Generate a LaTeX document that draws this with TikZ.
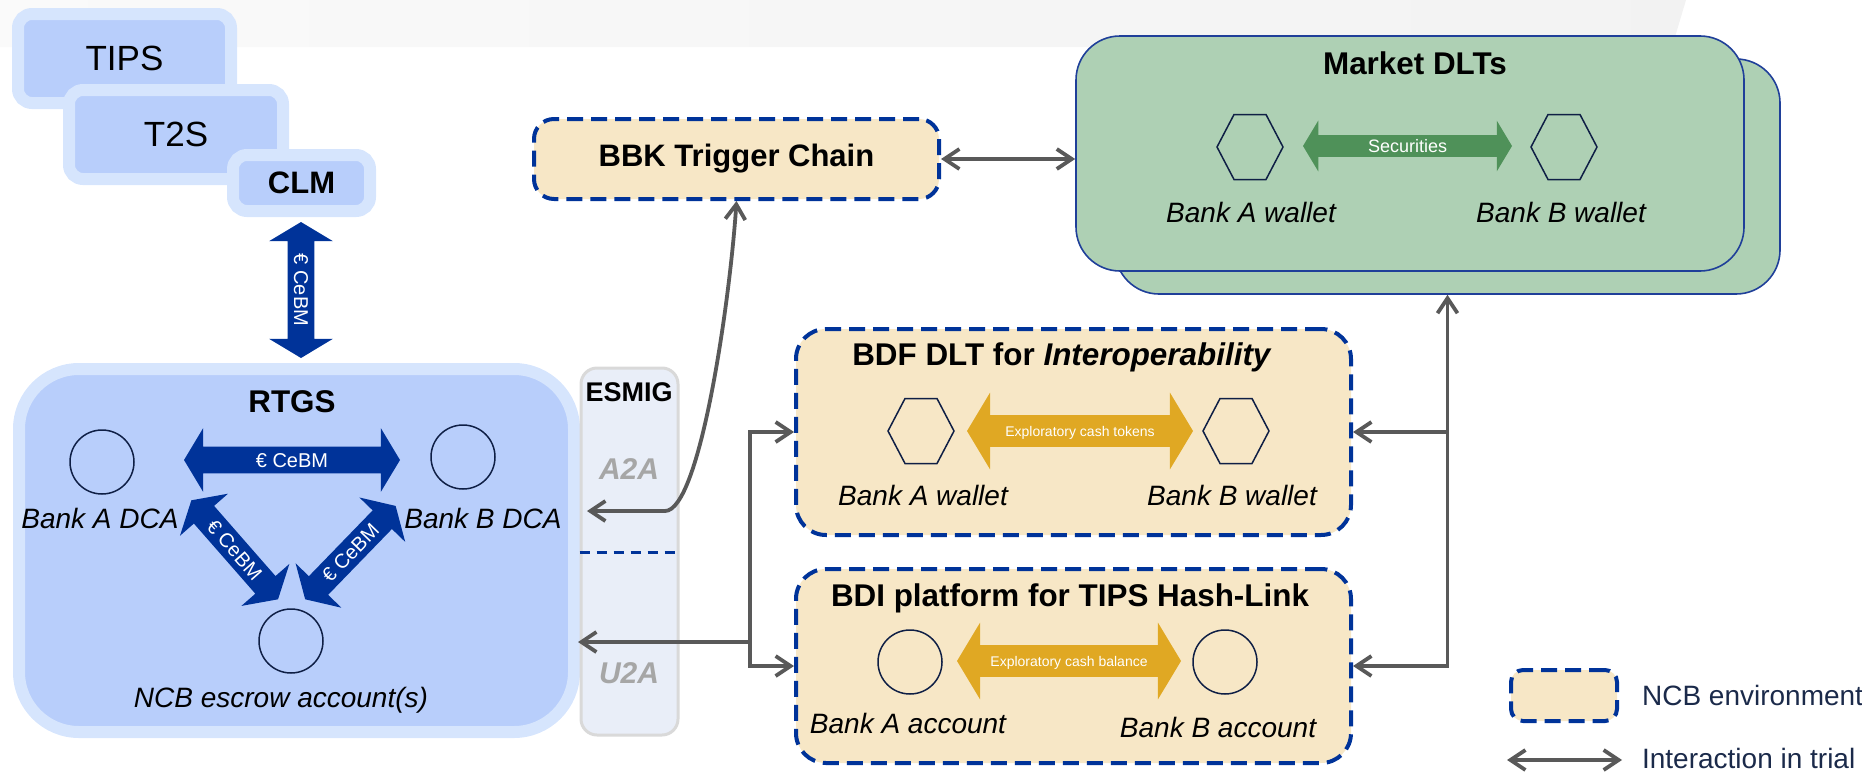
\documentclass[tikz,border=0pt]{standalone}
\usepackage{fontspec}
\setmainfont{Liberation Sans}
\usetikzlibrary{shapes.arrows,arrows.meta,positioning}

\definecolor{tgtborder}{HTML}{D6E5FD}
\definecolor{tgtfill}{HTML}{B8CEFB}
\definecolor{cebmblue}{HTML}{003399}
\definecolor{ncbfill}{HTML}{F7E7C6}
\definecolor{ncbline}{HTML}{003399}
\definecolor{dltfill}{HTML}{AED0B4}
\definecolor{dltline}{HTML}{1F3F99}
\definecolor{secgreen}{HTML}{4F9159}
\definecolor{cashgold}{HTML}{E0A823}
\definecolor{linkgray}{HTML}{595959}
\definecolor{esmigfill}{HTML}{E9EEF8}
\definecolor{esmigline}{HTML}{D9D9D9}
\definecolor{modegray}{HTML}{A6A6A6}
\definecolor{acctline}{HTML}{0F1F45}
\definecolor{legendtext}{HTML}{1B2A4A}

\tikzset{
  tgtbox/.style={draw=tgtborder, fill=tgtfill, line width=6pt, rounded corners=7pt, inner sep=0pt},
  ncbbox/.style={draw=ncbline, fill=ncbfill, line width=2pt, dash pattern=on 8pt off 4pt, rounded corners=15pt, inner sep=0pt},
  dltbox/.style={draw=dltline, fill=dltfill, line width=0.8pt, rounded corners=22pt, inner sep=0pt},
  esmigbox/.style={draw=esmigline, fill=esmigfill, line width=1.5pt, rounded corners=8pt, inner sep=0pt},
  acct/.style={circle, draw=acctline, line width=0.75pt, minimum size=32pt, inner sep=0pt},
  hexline/.style={draw=acctline, line width=0.75pt},
  lbl/.style={font=\fontsize{14}{16}\selectfont\itshape},
  ttl/.style={font=\fontsize{15.7}{18}\selectfont\bfseries},
  mode/.style={font=\fontsize{15}{18}\selectfont\bfseries\itshape, text=modegray},
  legend/.style={anchor=west, text=legendtext, font=\fontsize{14}{16}\selectfont},
  fat/.style={double arrow, double arrow tip angle=118, inner xsep=2pt, text=white, text depth=0pt},
  cebm/.style={fat, fill=cebmblue, font=\fontsize{10}{11}\selectfont, text height=7pt, inner ysep=3pt, double arrow head extend=9.25pt},
  secarrow/.style={fat, fill=secgreen, font=\fontsize{9}{10}\selectfont, text height=6.5pt, inner ysep=2pt, double arrow head extend=7.25pt},
  cash/.style={fat, fill=cashgold, font=\fontsize{7}{8}\selectfont, text height=5pt, inner ysep=5.25pt, double arrow head extend=11.25pt},
  link/.style={draw=linkgray, line width=1.9pt, >={Straight Barb[length=7.5pt,width=10pt]}}
}

\newcommand{\wallet}[2]{\coordinate (#1) at (#2);
  \draw[hexline] (#1) ++(-33,0) -- ++(17,-32.5) -- ++(32,0) -- ++(17,32.5) -- ++(-17,32.5) -- ++(-32,0) -- cycle;}

\begin{document}
\begin{tikzpicture}[x=0.5pt,y=-0.5pt]
    \useasboundingbox (0,0) rectangle (1862,771);
    \shade[left color=gray!4,right color=gray!10] (0,0) -- (1686,0) -- (1672,47) -- (0,47) -- cycle;

    % target services
    \node[tgtbox, minimum width=106.5pt, minimum height=44.5pt, font=\fontsize{17.5}{20}\selectfont] (tips) at (124.5,58.5) {TIPS};
    \node[tgtbox, minimum width=107pt, minimum height=44.5pt, font=\fontsize{17.5}{20}\selectfont] (t2s) at (176,134.5) {T2S};
    \node[tgtbox, minimum width=68.5pt, minimum height=28pt, font=\fontsize{15.5}{18}\selectfont\bfseries] (clm) at (301.5,183) {CLM};
    \node[cebm, rotate=-90, minimum height=68pt] (clmrtgs) at (301,290) {€ CeBM};

    % RTGS
    \node[tgtbox, minimum width=277.5pt, minimum height=181.5pt, rounded corners=30pt] (rtgs) at (296.5,550.5) {};
    \node[ttl] (rtgsttl) at (292,402) {RTGS};
    \node[acct] (dcaA) at (102,462) {};
    \node[acct] (dcaB) at (463,457) {};
    \node[acct] (escrow) at (291,641) {};
    \node[lbl] (dcaAlbl) at (100,518) {Bank A DCA};
    \node[lbl] (dcaBlbl) at (483,518) {Bank B DCA};
    \node[lbl] (escrowlbl) at (281,700) {NCB escrow account(s)};
    \node[cebm, minimum height=108pt] (dcaAB) at (292,460) {€ CeBM};
    \node[cebm, rotate=-48.8, minimum height=65.8pt] (dcaAesc) at (234.7,549.8) {€ CeBM};
    \node[cebm, rotate=45.9, minimum height=65pt] (dcaBesc) at (350.4,552.6) {€ CeBM};

    % ESMIG
    \node[esmigbox, minimum width=48.5pt, minimum height=183.5pt] (esmig) at (629.5,551.5) {};
    \node[font=\fontsize{13.5}{16}\selectfont\bfseries] (esmigttl) at (629,392) {ESMIG};
    \draw[ncbline, line width=1.5pt, dash pattern=on 5pt off 3.5pt] (esmig.west |- 0,552) -- (esmig.east |- 0,552);
    \node[mode] (a2atxt) at (629,469) {A2A};
    \node[mode] (u2atxt) at (629,673) {U2A};

    % BBK
    \node[ncbbox, rounded corners=10pt, minimum width=202.5pt, minimum height=40pt, font=\fontsize{15.5}{18}\selectfont\bfseries] (bbk) at (736.5,159) {BBK Trigger Chain};

    % market DLTs
    \node[dltbox, minimum width=332.5pt, minimum height=117.5pt] (mktback) at (1447.5,176.5) {};
    \node[dltbox, minimum width=334pt, minimum height=117.5pt] (mkt) at (1410,153.5) {};
    \node[ttl] (mktttl) at (1415,63) {Market DLTs};
    \wallet{mwA}{1250,147}
    \wallet{mwB}{1564,147}
    \node[lbl] (mwAlbl) at (1251,212) {Bank A wallet};
    \node[lbl] (mwBlbl) at (1561,212) {Bank B wallet};
    \node[secarrow, minimum height=104.5pt] (sec) at (1407.5,146) {Securities};

    % BDF
    \node[ncbbox, minimum width=277.5pt, minimum height=103pt] (bdf) at (1073.5,432) {};
    \node[ttl] (bdfttl) at (1062,357) {BDF DLT for \textit{Interoperability}};
    \wallet{dwA}{921,431}
    \wallet{dwB}{1236,431}
    \node[lbl] (dwAlbl) at (923,495) {Bank A wallet};
    \node[lbl] (dwBlbl) at (1232,495) {Bank B wallet};
    \node[cash, minimum height=113pt] (tok) at (1080,431) {Exploratory cash tokens};

    % BDI
    \node[ncbbox, minimum width=277.5pt, minimum height=97pt] (bdi) at (1073.5,666) {};
    \node[ttl] (bdittl) at (1070,598) {BDI platform for TIPS Hash-Link};
    \node[acct] (iaA) at (910,662) {};
    \node[acct] (iaB) at (1225,662) {};
    \node[lbl] (iaAlbl) at (908,723) {Bank A account};
    \node[lbl] (iaBlbl) at (1218,727) {Bank B account};
    \node[cash, minimum height=112pt] (bal) at (1069,661) {Exploratory cash balance};

    % interactions
    \coordinate (a2a) at (587,511);
    \coordinate (u2a) at (578,642);
    \coordinate (jl) at (750,642);
    \draw[link,<->] (bbk.east) -- (bbk.east -| mkt.west);
    \draw[link,<->] (bbk.south) .. controls (730,300) and (700,511) .. (665,511) -- (a2a);
    \draw[link,->] (jl) -- (u2a);
    \draw[link,<->] (bdf.west) -| (jl) |- (bdi.west);
    \draw[link,<->] (bdi.east) -| (mktback.south);
    \draw[link,->] (mktback.south |- bdf.east) -- (bdf.east);

    % legend
    \node[ncbbox, rounded corners=6pt, minimum width=53pt, minimum height=25.5pt] (lgbox) at (1564,695.5) {};
    \node[legend] (lgboxtxt) at (1635,695) {NCB environment};
    \coordinate (lgA) at (1507,760);
    \coordinate (lgB) at (1622,760);
    \draw[link,<->] (lgA) -- (lgB);
    \node[legend] (lgarrtxt) at (1635,758) {Interaction in trial};
\end{tikzpicture}
\end{document}
